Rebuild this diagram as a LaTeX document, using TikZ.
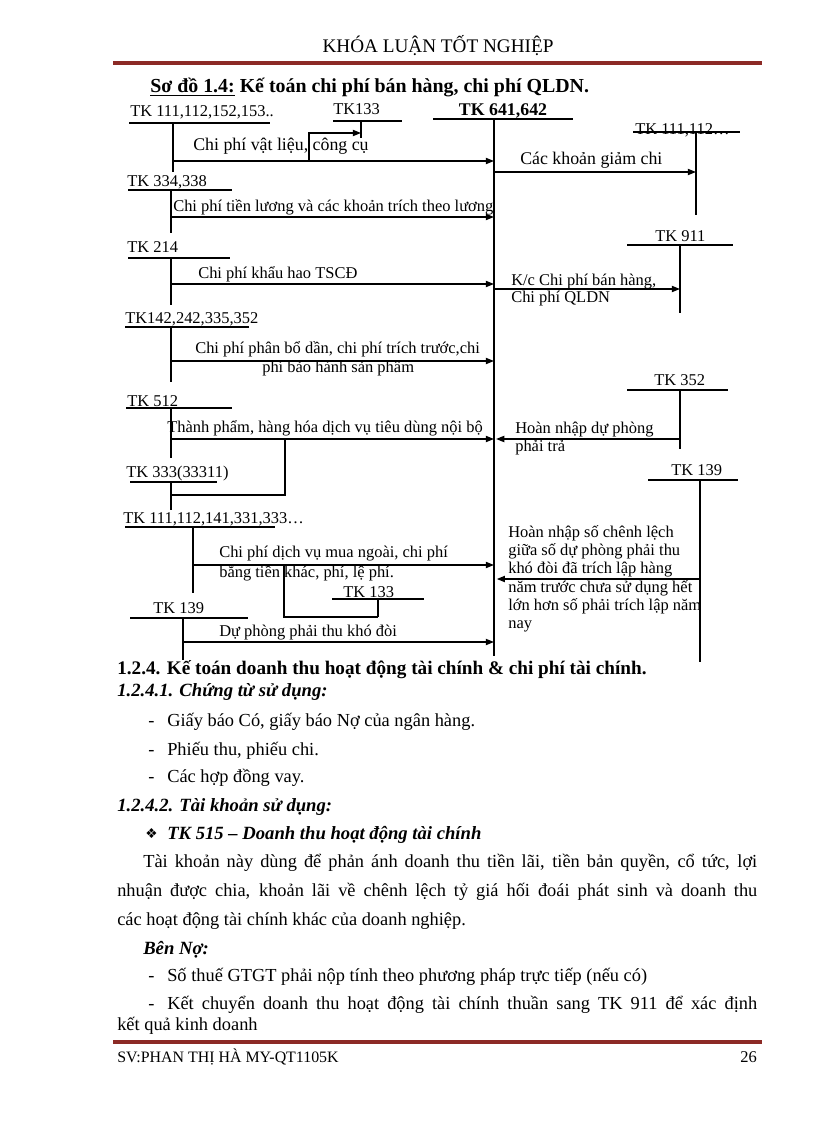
\documentclass[tikz,border=0pt]{standalone}
\usepackage{fontspec}
\setmainfont{Liberation Serif}
\newfontfamily\dejavu{DejaVu Sans}
\usetikzlibrary{arrows.meta}
\definecolor{rule}{RGB}{140,42,38}
\begin{document}
\begin{tikzpicture}[x=0.729pt,y=-0.729pt,
 tx/.style={font=\fontsize{12}{14}\selectfont, inner sep=0pt, anchor=base west},
 txl/.style={tx, font=\fontsize{13}{15}\selectfont},
 bt/.style={font=\fontsize{13.4}{15}\selectfont, inner sep=0pt, anchor=base west},
 bh/.style={bt, font=\bfseries\fontsize{14}{16}\selectfont},
 bi/.style={bt, font=\bfseries\itshape\fontsize{13.6}{16}\selectfont},
 ul/.style={line width=1pt},
 tline/.style={line width=1.1pt},
 ln/.style={line width=1.1pt},
 arr/.style={line width=1.1pt, -{Triangle[length=6pt,width=4.5pt]}},
 brule/.style={line width=3.6pt, draw=rule}]
\useasboundingbox[fill=white] (0,0) rectangle (816,1123);

% header
\node[bt, anchor=base, font=\fontsize{14}{16}\selectfont] (hdr) at (438,53) {KHÓA LUẬN TỐT NGHIỆP};
\draw[brule] (113,63) -- (762,63);
\node[tx, font=\bfseries\fontsize{14.5}{16}\selectfont] (title) at (150,93) {\underline{Sơ đồ 1.4:} Kế toán chi phí bán hàng, chi phí QLDN.};

% account labels and underlines
\node[tx] (t111a) at (130,117) {TK 111,112,152,153..};
\draw[ul] (129,123) -- (270,123);
\node[tx] (t133a) at (333,115) {TK133};
\draw[ul] (333,121) -- (402,121);
\node[tx, font=\bfseries\fontsize{13}{15}\selectfont, anchor=base] (t641) at (503,116) {TK 641,642};
\draw[ul] (433,119) -- (573,119);
\node[tx] (t111r) at (635,135) {TK 111,112…};
\draw[ul] (633,132) -- (740,132);
\node[tx] (t334) at (127,187) {TK 334,338};
\draw[ul] (128,190) -- (232,190);
\node[tx] (t214) at (127,253) {TK 214};
\draw[ul] (128,258) -- (230,258);
\node[tx] (t911) at (655,241) {TK 911};
\draw[ul] (627,245) -- (733,245);
\node[tx] (t142) at (125,323) {TK142,242,335,352};
\draw[ul] (125,327) -- (249,327);
\node[tx] (t352) at (654,385) {TK 352};
\draw[ul] (627,390) -- (728,390);
\node[tx] (t512) at (127,406) {TK 512};
\draw[ul] (126,408) -- (232,408);
\node[tx] (t139r) at (671,475) {TK 139};
\draw[ul] (648,480) -- (738,480);
\node[tx] (t333) at (126,477) {TK 333(33311)};
\draw[ul] (130,482) -- (217,482);
\node[tx] (t111b) at (123,523) {TK 111,112,141,331,333…};
\draw[ul] (125,527) -- (275,527);
\node[tx] (t133b) at (343,597) {TK 133};
\draw[ul] (332,599) -- (424,599);
\node[tx] (t139l) at (153,613) {TK 139};
\draw[ul] (130,618) -- (248,618);

% T-account verticals
\coordinate (v111a) at (173,123); \draw[tline] (v111a) -- ++(0,49);
\coordinate (v133a) at (361,121); \draw[tline] (v133a) -- ++(0,17);
\coordinate (v641) at (494,119); \draw[tline] (v641) -- ++(0,537);
\coordinate (v111r) at (696,132); \draw[tline] (v111r) -- ++(0,83);
\coordinate (v334) at (171,190); \draw[tline] (v334) -- ++(0,43);
\coordinate (v214) at (171,258); \draw[tline] (v214) -- ++(0,47);
\coordinate (v911) at (680,245); \draw[tline] (v911) -- ++(0,68);
\coordinate (v142) at (171,327); \draw[tline] (v142) -- ++(0,55);
\coordinate (v512) at (171,408); \draw[tline] (v512) -- ++(0,50);
\coordinate (v352) at (680,390); \draw[tline] (v352) -- ++(0,59);
\coordinate (v333) at (171,482); \draw[tline] (v333) -- ++(0,28);
\coordinate (v139r) at (700,480); \draw[tline] (v139r) -- ++(0,182);
\coordinate (v111b) at (193,527); \draw[tline] (v111b) -- ++(0,66);
\coordinate (v133b) at (378,599); \draw[tline] (v133b) -- ++(0,18);
\coordinate (v139l) at (183,618); \draw[tline] (v139l) -- ++(0,42);

% rows
\coordinate (r0) at (0,133);
\coordinate (r1) at (0,161);
\coordinate (r2) at (0,172);
\coordinate (r3) at (0,217);
\coordinate (r4) at (0,284);
\coordinate (r5) at (0,289);
\coordinate (r6) at (0,361);
\coordinate (r7) at (0,439);
\coordinate (r7b) at (0,495);
\coordinate (r9) at (0,579);
\coordinate (r10) at (0,565);
\coordinate (r10b) at (0,617);
\coordinate (r11) at (0,642);
\coordinate (b1) at (309,161);
\coordinate (b2) at (285,439);
\coordinate (b3) at (284,565);

% connectors
\draw[arr] (v111a |- r1) -- (v641 |- r1);
\draw[arr] (b1) |- (v133a |- r0);
\draw[arr] (v641 |- r2) -- (v111r |- r2);
\draw[arr] (v334 |- r3) -- (v641 |- r3);
\draw[arr] (v214 |- r4) -- (v641 |- r4);
\draw[arr] (v641 |- r5) -- (v911 |- r5);
\draw[arr] (v142 |- r6) -- (v641 |- r6);
\draw[arr] (v512 |- r7) -- (v641 |- r7);
\draw[ln] (b2) |- (v333 |- r7b);
\draw[arr, shorten >=1.5pt] (v352 |- r7) -- (v641 |- r7);
\draw[arr, shorten >=2pt] (v139r |- r9) -- (v641 |- r9);
\draw[arr] (v111b |- r10) -- (v641 |- r10);
\draw[ln] (b3) |- (v133b |- r10b);
\draw[arr] (v139l |- r11) -- (v641 |- r11);

% connector labels
\node[txl] (l1) at (193,151) {Chi phí vật liệu, công cụ};
\node[txl] (l2) at (520,165) {Các khoản giảm chi};
\node[tx] (l3) at (173,212) {Chi phí tiền lương và các khoản trích theo lương};
\node[tx] (l4) at (198,278) {Chi phí khẩu hao TSCĐ};
\node[tx] (l5a) at (511,285) {K/c Chi phí bán hàng,};
\node[tx] (l5b) at (511,302) {Chi phí QLDN};
\node[tx] (l6a) at (195,353) {Chi phí phân bổ dần, chi phí trích trước,chi};
\node[tx] (l6b) at (262,372) {phí bảo hành sản phẩm};
\node[tx] (l7) at (167,432) {Thành phẩm, hàng hóa dịch vụ tiêu dùng nội bộ};
\node[tx] (l8a) at (515,433) {Hoàn nhập dự phòng};
\node[tx] (l8b) at (515,451) {phải trả};
\node[tx] (l9a) at (508,537) {Hoàn nhập số chênh lệch};
\node[tx] (l9b) at (508,555) {giữa số dự phòng phải thu};
\node[tx] (l9c) at (508,573) {khó đòi đã trích lập hàng};
\node[tx] (l9d) at (508,592) {năm trước chưa sử dụng hết};
\node[tx] (l9e) at (508,610) {lớn hơn số phải trích lập năm};
\node[tx] (l9f) at (508,628) {nay};
\node[tx] (l10a) at (219,557) {Chi phí dịch vụ mua ngoài, chi phí};
\node[tx] (l10b) at (219,577) {bằng tiền khác, phí, lệ phí.};
\node[tx] (l11) at (219,636) {Dự phòng phải thu khó đòi};

% body text
\node[bh] (h1) at (117,674) {1.2.4. Kế toán doanh thu hoạt động tài chính \& chi phí tài chính.};
\node[bi] (h2) at (117,696) {1.2.4.1. Chứng từ sử dụng:};
\node[bt] (d1) at (148,726) {-};
\node[bt] (p1) at (167,726) {Giấy báo Có, giấy báo Nợ của ngân hàng.};
\node[bt] (d2) at (148,755) {-};
\node[bt] (p2) at (167,755) {Phiếu thu, phiếu chi.};
\node[bt] (d3) at (148,782) {-};
\node[bt] (p3) at (167,782) {Các hợp đồng vay.};
\node[bi] (h3) at (117,811) {1.2.4.2. Tài khoản sử dụng:};
\node[bt, font=\dejavu\fontsize{10}{12}\selectfont] (dia) at (145,838) {❖};
\node[bi] (h4) at (167,839) {TK 515 – Doanh thu hoạt động tài chính};
\node[bt] (q1) at (143,867) {\makebox[447.6pt][s]{Tài khoản này dùng để phản ánh doanh thu tiền lãi, tiền bản quyền, cổ tức, lợi}};
\node[bt] (q2) at (117,896) {\makebox[466.6pt][s]{nhuận được chia, khoản lãi về chênh lệch tỷ giá hối đoái phát sinh và doanh thu}};
\node[bt] (q3) at (117,925) {các hoạt động tài chính khác của doanh nghiệp.};
\node[bi] (h5) at (143,954) {Bên Nợ:};
\node[bt] (d4) at (148,981) {-};
\node[bt] (p4) at (167,981) {Số thuế GTGT phải nộp tính theo phương pháp trực tiếp (nếu có)};
\node[bt] (d5) at (148,1009) {-};
\node[bt] (p5) at (167,1009) {\makebox[430.1pt][s]{Kết chuyển doanh thu hoạt động tài chính thuần sang TK 911 để xác định}};
\node[bt] (p6) at (117,1030) {kết quả kinh doanh};
\draw[brule] (113,1042) -- (762,1042);
\node[tx, font=\fontsize{11.6}{14}\selectfont] (ft) at (117,1062) {SV:PHAN THỊ HÀ MY-QT1105K};
\node[tx, anchor=base east] (pg) at (757,1062) {26};
\end{tikzpicture}
\end{document}
